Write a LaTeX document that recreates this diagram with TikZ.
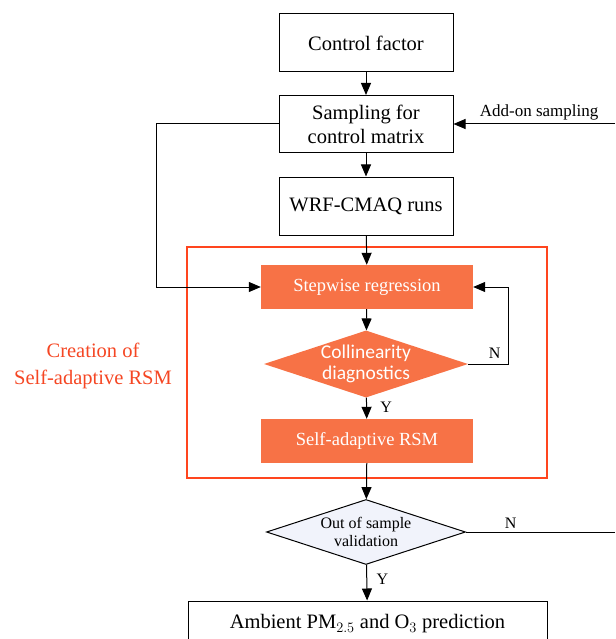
\documentclass[tikz,border=0pt]{standalone}
\usepackage{fontspec}
\setmainfont{Liberation Serif}
\newfontfamily\calibrifont{Carlito}
\usetikzlibrary{arrows.meta, shapes.geometric, calc}

\definecolor{boxorange}{RGB}{247,114,70}
\definecolor{framered}{RGB}{255,69,30}
\definecolor{labelred}{RGB}{245,70,35}
\definecolor{paleblue}{RGB}{241,243,251}

\tikzset{
    plainbox/.style={draw, line width=1pt, minimum width=174pt, minimum height=58pt,
        align=center, font=\fontsize{20.5}{24}\selectfont},
    orangebox/.style={fill=boxorange, text=white, minimum width=212pt, minimum height=44pt,
        inner sep=0pt, font=\fontsize{18.5}{21}\selectfont},
    orangediamond/.style={diamond, fill=boxorange, inner sep=0pt,
        minimum width=204pt, minimum height=67pt},
    checkdiamond/.style={diamond, draw, line width=1pt, fill=paleblue, inner sep=0pt,
        minimum width=199pt, minimum height=65pt},
    flow/.style={line width=1pt, -{Triangle[length=12pt,width=10pt]}},
    yesno/.style={font=\fontsize{16}{18}\selectfont}
}

\begin{document}
\begin{tikzpicture}[x=1pt, y=-1pt]
        \useasboundingbox (0,0) rectangle (615,639);

        % main column
        \node[plainbox] (factor) at (366,43) {Control factor};
        \node[plainbox, minimum height=57pt] (sampling) at (366,124) {Sampling for\\control matrix};
        \node[plainbox] (wrf) at (366,206) {WRF-CMAQ runs};

        % RSM block
        \draw[framered, line width=2pt] (187,247) rectangle (547,478);
        \node[orangebox] (stepwise) at (367,287) {Stepwise regression};
        \node[orangediamond, label={[text=white, align=center,
            font=\calibrifont\fontsize{19.5}{21}\selectfont]center:Collinearity\\diagnostics}]
            (colline) at (366,364) {};
        \node[orangebox] (rsm) at (367,441) {Self-adaptive RSM};
        \node[text=labelred, align=center, font=\fontsize{20.5}{27}\selectfont]
            (creation) at (93,366) {Creation of\\Self-adaptive RSM};

        % validation and output
        \node[checkdiamond, label={[align=center,
            font=\fontsize{16}{18}\selectfont]center:Out of sample\\validation}]
            (valid) at (366,532) {};
        \node[plainbox, minimum width=359pt, minimum height=46pt] (ambient) at (367.5,624)
            {Ambient PM$_{2.5}$ and O$_3$ prediction};

        \coordinate (addon) at (615,124);
        \coordinate (exitN) at (615,532);

        \draw[flow] (factor) -- (sampling);
        \draw[flow] (sampling) -- (wrf);
        \draw[flow] (wrf) -- (stepwise);
        \draw[flow] (stepwise) -- (colline);
        \draw[flow] (colline) -- node[yesno, right=10pt, pos=0.45] {Y} (rsm);
        \draw[flow] (colline.east) -- ++(40,0) node[yesno, above left, xshift=-4pt, yshift=2pt] {N} |- (stepwise.east);
        \draw[flow] (sampling.west) -- ++(-122,0) |- (stepwise.west);
        \draw[flow] (addon) -- node[above, pos=0.47, font=\fontsize{17}{20}\selectfont] {Add-on sampling} (sampling.east);
        \draw[flow] (rsm) -- (valid);
        \draw[flow] (valid) -- node[yesno, right=6pt, pos=0.4] {Y} (ambient);
        \draw[line width=1pt] (valid.east) -- node[yesno, above, pos=0.3] {N} (exitN);

    \end{tikzpicture}
\end{document}
